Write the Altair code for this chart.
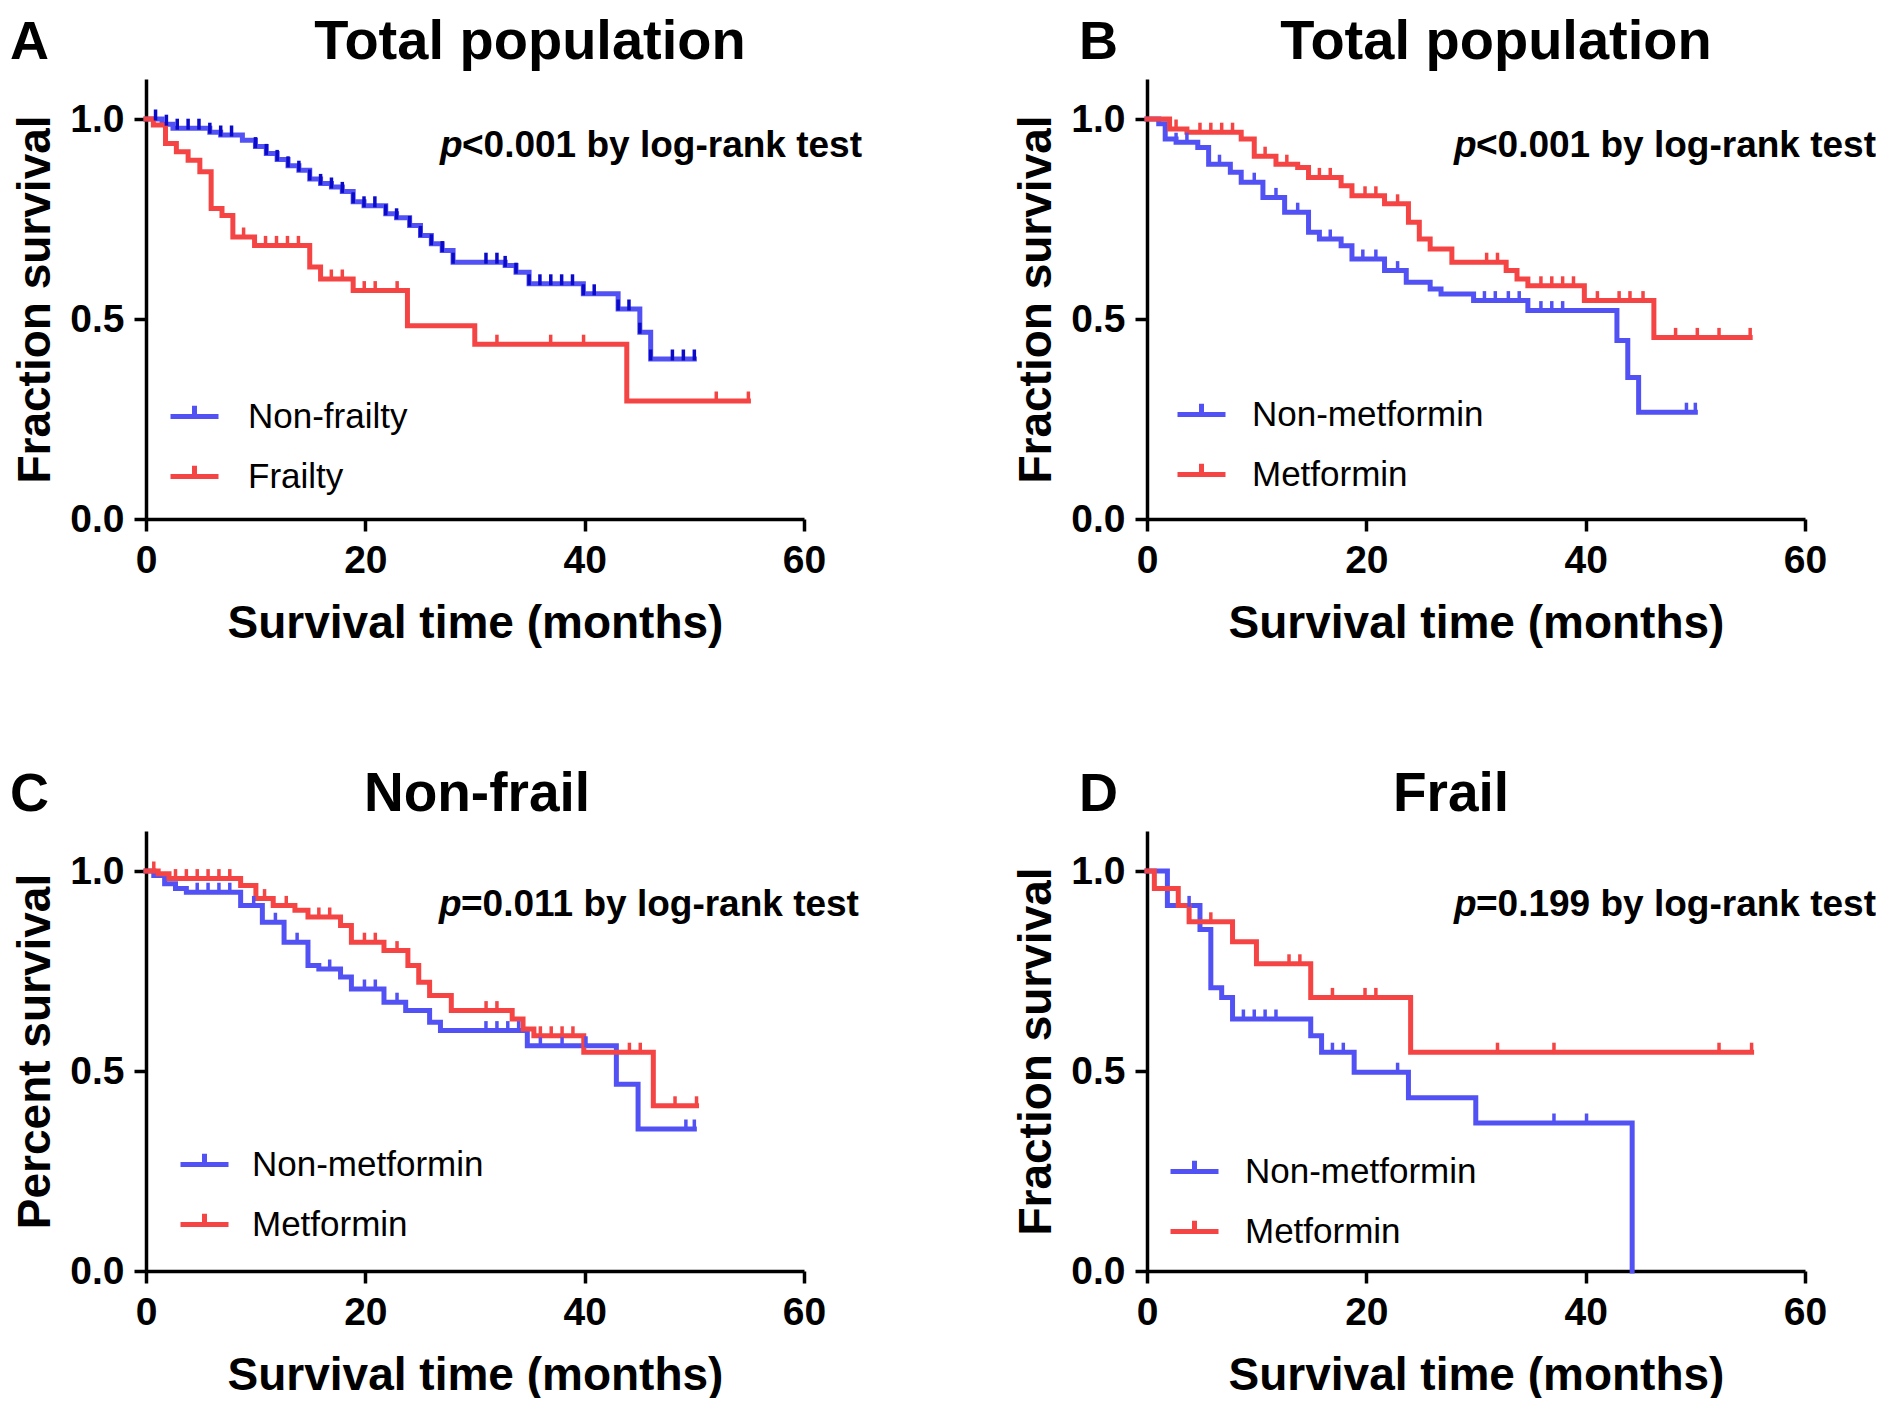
import altair as alt
import pandas as pd

FONT = "Liberation Sans"
BLUE = "#5252F4"
RED = "#F54444"
DARKBLUE = "#0A0AC8"

# ---------------- Panel A : Total population (frailty) ----------------
A_names = ["Non-frailty", "Frailty"]
A_nf_t = [0, 1.47, 2.46, 5.82, 6.81, 8.79, 9.98, 10.97, 11.96, 12.95, 13.94, 14.93, 15.92,
          16.91, 17.90, 18.89, 19.88, 21.86, 22.85, 24.04, 25.03, 26.02, 27.01, 28.0, 32.75,
          33.74, 34.93, 39.88, 43.05, 45.03, 46.02, 50.0]
A_nf_s = [1.0, 0.987, 0.977, 0.967, 0.96, 0.947, 0.931, 0.914, 0.899, 0.883, 0.872, 0.850, 0.839,
          0.830, 0.819, 0.793, 0.783, 0.763, 0.753, 0.734, 0.709, 0.688, 0.671, 0.642, 0.634,
          0.617, 0.588, 0.563, 0.525, 0.467, 0.400, 0.400]
A_nf_c = [0.87, 1.86, 2.85, 3.84, 4.83, 5.82, 6.81, 7.80, 9.98, 10.97, 11.96, 12.95, 13.94,
          14.93, 15.92, 16.91, 17.90, 18.89, 19.88, 20.87, 21.86, 22.85, 24.04, 25.03, 26.02,
          27.01, 28.0, 31.0, 32.0, 32.75, 33.74, 34.93, 35.92, 36.91, 37.9, 38.89, 39.88, 40.87,
          43.05, 44.04, 45.03, 46.02, 48.0, 49.0, 50.0]
A_f_t = [0, 0.67, 1.78, 2.77, 3.84, 4.91, 5.94, 6.93, 7.92, 9.9, 14.93, 15.92, 18.89, 23.84,
         29.98, 43.84, 54.93]
A_f_s = [1.0, 0.985, 0.939, 0.918, 0.897, 0.868, 0.776, 0.759, 0.705, 0.684, 0.630, 0.600,
         0.571, 0.483, 0.437, 0.295, 0.295]
A_f_c = [8.9, 10.9, 11.9, 12.9, 13.9, 16.9, 17.9, 19.9, 20.9, 22.9, 32.0, 36.9, 39.9, 52.0, 54.93]

# ---------------- Panel B : Total population (metformin) ----------------
B_names = ["Non-metformin", "Metformin"]
B_nm_t = [0, 1.07, 1.66, 2.65, 4.63, 5.62, 7.6, 8.59, 10.57, 12.55, 14.73, 15.72, 17.7, 18.69,
          21.66, 23.64, 25.82, 26.81, 29.78, 34.73, 42.85, 43.84, 44.83, 50.0]
B_nm_s = [1.0, 0.988, 0.95, 0.942, 0.929, 0.887, 0.867, 0.842, 0.804, 0.767, 0.717, 0.70, 0.683,
          0.65, 0.621, 0.592, 0.575, 0.5625, 0.546, 0.521, 0.446, 0.354, 0.267, 0.267]
B_nm_c = [2.65, 3.64, 6.61, 9.78, 11.76, 13.74, 16.71, 19.68, 20.87, 22.85, 30.77, 31.76, 32.95,
          33.94, 35.92, 36.91, 37.9, 49.19, 50.0]
B_m_t = [0, 2.06, 3.64, 8.59, 9.78, 11.76, 13.74, 14.73, 17.7, 18.69, 21.66, 23.84, 24.83, 25.82,
         27.8, 32.75, 33.74, 34.73, 39.88, 46.22, 55.0]
B_m_s = [1.0, 0.975, 0.967, 0.95, 0.907, 0.887, 0.879, 0.854, 0.833, 0.808, 0.788, 0.742, 0.70,
         0.675, 0.642, 0.621, 0.60, 0.583, 0.546, 0.454, 0.454]
B_m_c = [2.65, 4.83, 5.82, 6.81, 7.8, 10.77, 12.75, 15.72, 16.71, 19.88, 20.87, 22.85, 30.97,
         31.96, 35.92, 36.91, 37.9, 38.89, 41.07, 43.05, 44.04, 45.23, 48.2, 50.18, 52.16, 55.0]

# ---------------- Panel C : Non-frail ----------------
C_names = ["Non-metformin", "Metformin"]
C_nm_t = [0, 0.71, 1.70, 2.69, 3.68, 8.63, 10.61, 12.59, 14.77, 15.76, 17.74, 18.73, 21.7, 23.68,
          25.86, 26.85, 34.77, 42.89, 44.87, 50.0]
C_nm_s = [1.0, 0.989, 0.968, 0.956, 0.947, 0.914, 0.872, 0.822, 0.764, 0.755, 0.735, 0.705,
          0.672, 0.651, 0.622, 0.601, 0.563, 0.467, 0.355, 0.355]
C_nm_c = [4.67, 5.66, 6.65, 7.64, 9.82, 11.8, 13.78, 16.75, 19.92, 20.91, 22.89, 31.0, 32.0,
          32.99, 33.98, 35.96, 37.94, 40.12, 49.23, 50.0]
C_m_t = [0, 1.11, 2.1, 8.63, 10.02, 11.6, 13.58, 14.77, 17.74, 18.73, 21.7, 23.88, 24.87, 25.86,
         27.84, 33.39, 34.38, 35.37, 39.92, 46.26, 50.2]
C_m_s = [1.0, 0.993, 0.981, 0.964, 0.931, 0.914, 0.902, 0.885, 0.864, 0.822, 0.801, 0.764,
         0.722, 0.689, 0.651, 0.630, 0.605, 0.588, 0.547, 0.413, 0.413]
C_m_c = [0.71, 2.69, 3.68, 4.67, 5.66, 6.65, 7.64, 10.81, 12.79, 15.76, 16.75, 19.92, 20.91,
         22.89, 31.01, 32.0, 35.96, 36.95, 37.94, 38.93, 44.08, 45.07, 48.24, 50.2]

# ---------------- Panel D : Frail ----------------
D_names = ["Non-metformin", "Metformin"]
D_nm_t = [0, 1.86, 4.83, 5.82, 6.81, 7.8, 14.93, 15.92, 18.89, 23.84, 29.98, 44.24]
D_nm_s = [1.0, 0.914, 0.854, 0.708, 0.684, 0.630, 0.588, 0.547, 0.497, 0.433, 0.370, 0.0]
D_nm_c = [3.84, 8.79, 9.78, 10.77, 11.76, 16.91, 17.9, 22.85, 37.11, 40.08]
D_m_t = [0, 0.67, 2.85, 3.84, 7.8, 9.98, 14.93, 24.04, 55.13]
D_m_s = [1.0, 0.956, 0.914, 0.873, 0.823, 0.768, 0.684, 0.547, 0.547]
D_m_c = [5.82, 12.95, 13.94, 16.91, 19.88, 20.87, 31.96, 37.11, 52.16, 55.13]

XLAB = "Survival time (months)"
W, H = 658, 440
HEAD_Y = -20


def surv_at(ts, ss, t):
    v = ss[0]
    for ti, si in zip(ts, ss):
        if ti <= t + 1e-9:
            v = si
    return v


def text_layer(txt, x, y, size, weight="bold", style="normal", align="left"):
    return alt.Chart(pd.DataFrame({"txt": [txt]})).mark_text(
        font=FONT, fontSize=size, fontWeight=weight, fontStyle=style, align=align,
        baseline="alphabetic", color="black"
    ).encode(x=alt.value(x), y=alt.value(y), text="txt:N")


def panel(letter, title, title_dx, title_size, ylab, names, curves, censors, ptext, px, py,
          legx, legy, lab_off, tick_colors, letter_x):
    rows = []
    for name, (ts, ss) in zip(names, curves):
        for t, s in zip(ts, ss):
            rows.append({"group": name, "t": t, "s": s})
    df = pd.DataFrame(rows)
    crows = []
    for name, (ts, ss), cs in zip(names, curves, censors):
        for t in cs:
            crows.append({"group": name, "t": t, "s": surv_at(ts, ss, t)})
    cdf = pd.DataFrame(crows)

    x = alt.X("t:Q", scale=alt.Scale(domain=[0, 60], nice=False),
              axis=alt.Axis(values=[0, 20, 40, 60], title=XLAB, format="d"))
    y = alt.Y("s:Q", scale=alt.Scale(domain=[0, 1.1], nice=False),
              axis=alt.Axis(values=[0, 0.5, 1.0], format=".1f", title=ylab))

    line = alt.Chart(df).mark_line(
        interpolate="step-after", strokeWidth=5, strokeCap="square", strokeJoin="miter"
    ).encode(
        x=x, y=y,
        color=alt.Color("group:N", sort=names,
                        scale=alt.Scale(domain=names, range=[BLUE, RED]),
                        legend=alt.Legend(orient="none", legendX=legx, legendY=legy, title=None,
                                          symbolType="M-1,0H1M0,0V-0.45", symbolSize=2304,
                                          symbolStrokeWidth=5, labelOffset=lab_off,
                                          rowPadding=15, padding=0, offset=0, labelLimit=500,
                                          labelFont=FONT, labelFontSize=35,
                                          labelFontWeight="normal", labelColor="black")),
    )
    ticks = alt.Chart(cdf).mark_tick(
        orient="vertical", size=11, thickness=3.5, yOffset=-4, opacity=1
    ).encode(
        x="t:Q", y="s:Q",
        color=alt.Color("group:N", scale=alt.Scale(domain=names, range=tick_colors), legend=None),
    )
    lab = text_layer(letter, letter_x, HEAD_Y, 54)
    ttl = text_layer(title, W / 2 + title_dx, HEAD_Y, title_size, align="center")
    p1 = text_layer("p", px, py, 37, style="italic")
    p2 = text_layer(ptext, px + 22, py, 37)

    return alt.layer(line, ticks, lab, ttl, p1, p2).resolve_scale(color="independent").properties(
        width=W, height=H,
    )


pA = panel("A", "Total population", 55, 56, "Fraction survival", A_names,
           [(A_nf_t, A_nf_s), (A_f_t, A_f_s)], [A_nf_c, A_f_c],
           "<0.001 by log-rank test", 294, 78, 22, 311, 27, [DARKBLUE, RED], -136)
pB = panel("B", "Total population", 20, 56, "Fraction survival", B_names,
           [(B_nm_t, B_nm_s), (B_m_t, B_m_s)], [B_nm_c, B_m_c],
           "<0.001 by log-rank test", 307, 78, 28, 309, 24, [BLUE, RED], -68)
pC = panel("C", "Non-frail", 2, 55, "Percent survival", C_names,
           [(C_nm_t, C_nm_s), (C_m_t, C_m_s)], [C_nm_c, C_m_c],
           "=0.011 by log-rank test", 293, 85, 32, 307, 21, [BLUE, RED], -136)
pD = panel("D", "Frail", -25, 55, "Fraction survival", D_names,
           [(D_nm_t, D_nm_s), (D_m_t, D_m_s)], [D_nm_c, D_m_c],
           "=0.199 by log-rank test", 307, 85, 21, 314, 24, [BLUE, RED], -68)

chart = alt.concat(pA, pB, pC, pD, columns=2, spacing={"row": 312, "column": 343},
                   bounds="flush").properties(
    padding={"left": 2, "top": 6, "right": 0, "bottom": 0}
).configure_view(stroke=None).configure_axis(
    domainColor="black", domainWidth=3.5, tickColor="black", tickWidth=3.5, tickSize=12,
    labelFont=FONT, labelFontSize=39, labelFontWeight="bold", labelColor="black",
    titleFont=FONT, titleFontSize=46, titleFontWeight="bold", titleColor="black",
    grid=False, labelPadding=10, labelFlush=False,
).configure_axisX(titlePadding=21).configure_axisY(titlePadding=10)

chart.save("out.html", embed_options={"renderer": "svg", "actions": False})
